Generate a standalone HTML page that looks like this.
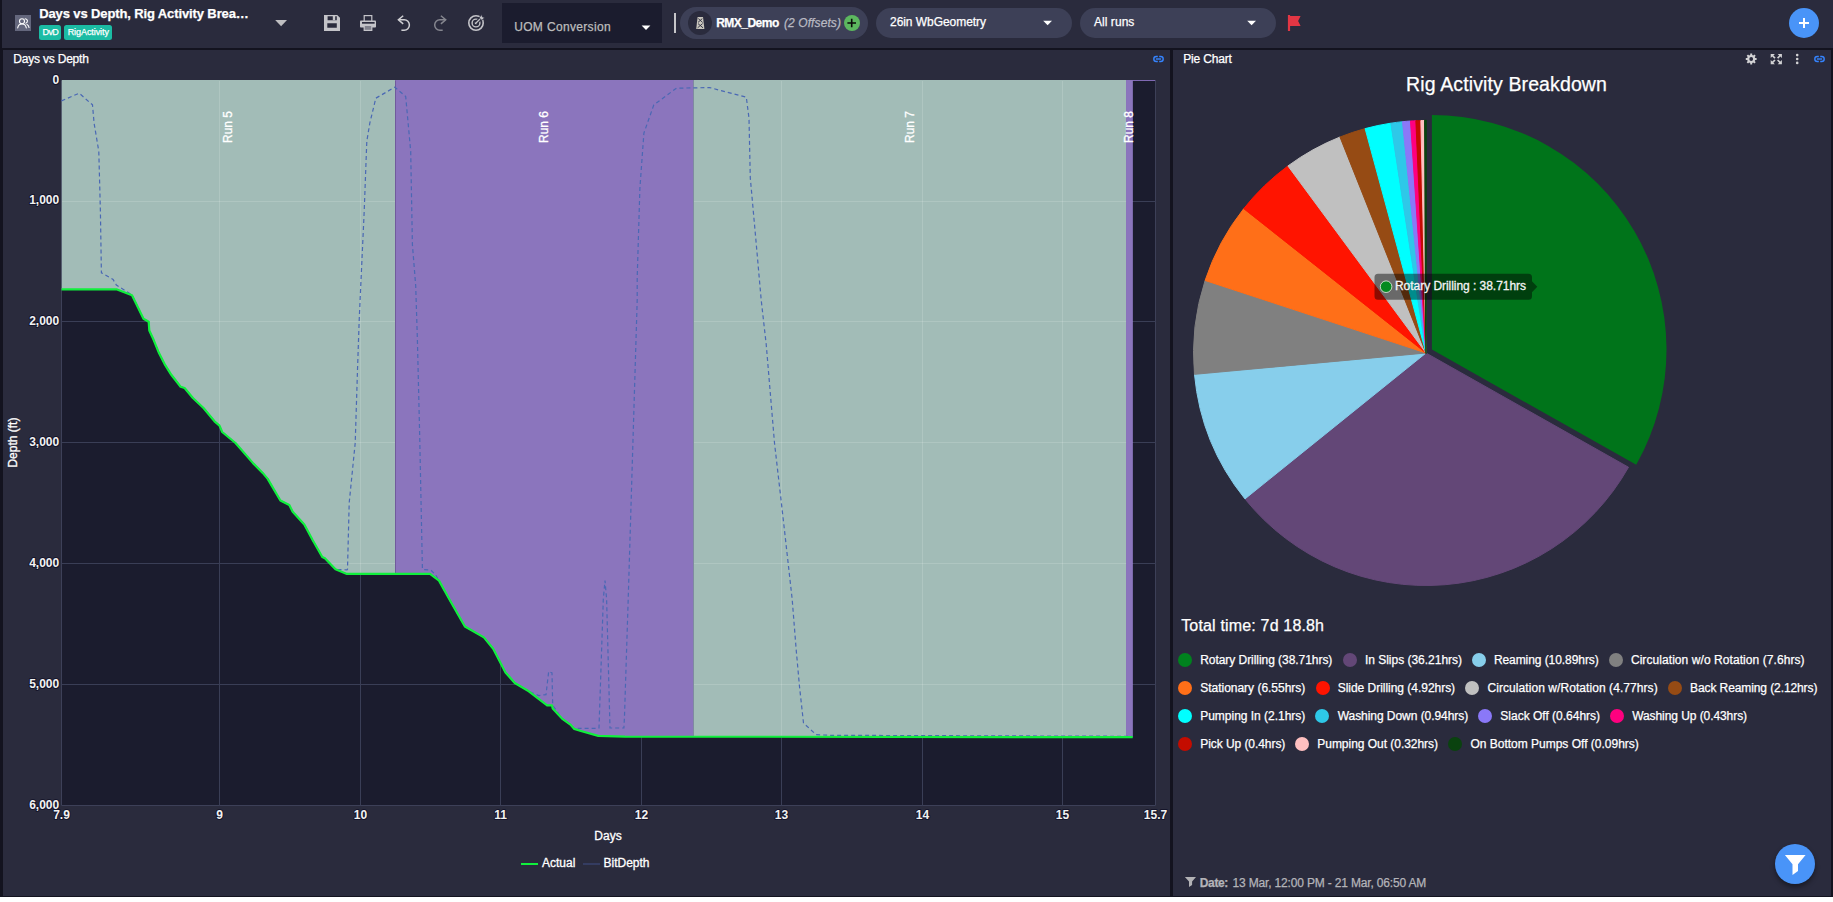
<!DOCTYPE html>
<html lang="en"><head><meta charset="utf-8"><title>Days vs Depth, Rig Activity Breakdown</title>
<style>
*{box-sizing:border-box;margin:0;padding:0}
html,body{width:1833px;height:902px;overflow:hidden;background:#fff}
body{font-family:"Liberation Sans", sans-serif;color:#fff;position:relative}
.abs{position:absolute}
.t{position:absolute;white-space:nowrap;line-height:1;-webkit-text-stroke:0.25px currentColor}
svg{position:absolute;left:0;top:0;overflow:visible}
svg text{font-family:"Liberation Sans", sans-serif}
</style></head><body>
<div class="abs" id="app" style="left:0;top:0;width:1833px;height:897px;background:#13131f"></div>
<div class="abs" id="header" style="left:2px;top:0;width:1831px;height:48px;background:#2a2b3d"></div>
<div class="abs" id="panelL" style="left:3px;top:50px;width:1167px;height:846px;background:#2a2b3d"></div>
<div class="abs" id="panelR" style="left:1173px;top:50px;width:658px;height:846px;background:#2a2b3d"></div>


<div class="abs" style="left:15px;top:15px;width:16px;height:16px;background:#64677d"></div>
<div class="abs" style="left:39px;top:25px;width:22px;height:15px;background:#1bbca4;border-radius:2.5px"></div>
<div class="abs" style="left:64px;top:25px;width:48px;height:15px;background:#1bbca4;border-radius:2.5px"></div>
<div class="abs" style="left:502px;top:3px;width:160px;height:40px;background:#1b1c2e"></div>
<div class="abs" style="left:674px;top:13px;width:2px;height:20px;background:#c6c6c9"></div>
<div class="abs" style="left:680px;top:7px;width:188px;height:32px;border-radius:16px;background:#3d4057"></div>
<div class="abs" style="left:688px;top:11px;width:24px;height:24px;border-radius:12px;background:#2a2b3d"></div>
<div class="abs" style="left:844px;top:15px;width:16px;height:16px;border-radius:8px;background:#5cb85f"></div>
<div class="abs" style="left:876px;top:8px;width:196px;height:30px;border-radius:15px;background:#3d4057"></div>
<div class="abs" style="left:1080px;top:8px;width:196px;height:30px;border-radius:15px;background:#3d4057"></div>
<div class="abs" style="left:1789px;top:8px;width:30px;height:30px;border-radius:15px;background:#4994f8"></div>
<div class="abs" style="left:1775px;top:844px;width:40px;height:40px;border-radius:20px;background:#4994f8;box-shadow:0 3px 5px rgba(0,0,0,.4)"></div>

<div class="t" id="title" style="left:39.20px;top:7.00px;font-size:13px;color:#fff;letter-spacing:-0.117px;font-weight:bold;">Days vs Depth, Rig Activity Brea…</div>
<div class="t" style="left:42.60px;top:28.08px;font-size:9px;color:#fff;letter-spacing:-0.633px;">DvD</div>
<div class="t" style="left:67.70px;top:28.08px;font-size:9px;color:#fff;letter-spacing:-0.073px;">RigActivity</div>
<div class="t" style="left:514.20px;top:20.84px;font-size:12px;color:#bdbdbd;letter-spacing:0.341px;">UOM Conversion</div>
<div class="t" style="left:716.20px;top:16.84px;font-size:12px;color:#fff;letter-spacing:-0.522px;font-weight:bold;">RMX_Demo</div>
<div class="t" style="left:784.00px;top:16.84px;font-size:12px;color:#b9bac3;letter-spacing:0.090px;font-style:italic;">(2 Offsets)</div>
<div class="t" style="left:890.00px;top:16.04px;font-size:12px;color:#fff;letter-spacing:-0.047px;">26in WbGeometry</div>
<div class="t" style="left:1094.00px;top:16.04px;font-size:12px;color:#fff;letter-spacing:0.048px;">All runs</div>
<div class="t" style="left:13.30px;top:52.84px;font-size:12px;color:#fff;letter-spacing:-0.202px;">Days vs Depth</div>
<div class="t" style="left:1183.20px;top:52.84px;font-size:12px;color:#fff;letter-spacing:-0.158px;">Pie Chart</div>
<div class="t" style="left:1406.10px;top:75.29px;font-size:19.5px;color:#fff;letter-spacing:0.118px;">Rig Activity Breakdown</div>
<div class="t" style="left:1181.20px;top:618.06px;font-size:16px;color:#fff;letter-spacing:0.168px;">Total time: 7d 18.8h</div>
<div class="t" style="left:1199.80px;top:876.64px;font-size:12px;color:#b4b4b9;letter-spacing:-0.361px;font-weight:bold;">Date:</div>
<div class="t" style="left:1232.60px;top:876.64px;font-size:12px;color:#b4b4b9;letter-spacing:-0.169px;">13 Mar, 12:00 PM - 21 Mar, 06:50 AM</div>
<div class="abs" style="left:1178.0px;top:653.0px;width:14px;height:14px;border-radius:7px;background:#00821e"></div>
<div class="t" style="left:1200.20px;top:653.84px;font-size:12px;color:#fff;letter-spacing:-0.049px;">Rotary Drilling (38.71hrs)</div>
<div class="abs" style="left:1343.1px;top:653.0px;width:14px;height:14px;border-radius:7px;background:#634777"></div>
<div class="t" style="left:1364.90px;top:653.84px;font-size:12px;color:#fff;letter-spacing:-0.015px;">In Slips (36.21hrs)</div>
<div class="abs" style="left:1472.1px;top:653.0px;width:14px;height:14px;border-radius:7px;background:#87ceeb"></div>
<div class="t" style="left:1493.90px;top:653.84px;font-size:12px;color:#fff;letter-spacing:-0.069px;">Reaming (10.89hrs)</div>
<div class="abs" style="left:1609.2px;top:653.0px;width:14px;height:14px;border-radius:7px;background:#808080"></div>
<div class="t" style="left:1630.90px;top:653.84px;font-size:12px;color:#fff;letter-spacing:0.070px;">Circulation w/o Rotation (7.6hrs)</div>
<div class="abs" style="left:1178.0px;top:681.0px;width:14px;height:14px;border-radius:7px;background:#ff6f18"></div>
<div class="t" style="left:1200.20px;top:681.84px;font-size:12px;color:#fff;letter-spacing:-0.014px;">Stationary (6.55hrs)</div>
<div class="abs" style="left:1315.8px;top:681.0px;width:14px;height:14px;border-radius:7px;background:#ff1400"></div>
<div class="t" style="left:1337.70px;top:681.84px;font-size:12px;color:#fff;letter-spacing:-0.027px;">Slide Drilling (4.92hrs)</div>
<div class="abs" style="left:1465.2px;top:681.0px;width:14px;height:14px;border-radius:7px;background:#c0c0c0"></div>
<div class="t" style="left:1487.50px;top:681.84px;font-size:12px;color:#fff;letter-spacing:0.067px;">Circulation w/Rotation (4.77hrs)</div>
<div class="abs" style="left:1668.2px;top:681.0px;width:14px;height:14px;border-radius:7px;background:#964b14"></div>
<div class="t" style="left:1690.10px;top:681.84px;font-size:12px;color:#fff;letter-spacing:-0.099px;">Back Reaming (2.12hrs)</div>
<div class="abs" style="left:1178.0px;top:709.0px;width:14px;height:14px;border-radius:7px;background:#00ffff"></div>
<div class="t" style="left:1200.20px;top:709.84px;font-size:12px;color:#fff;letter-spacing:-0.015px;">Pumping In (2.1hrs)</div>
<div class="abs" style="left:1315.0px;top:709.0px;width:14px;height:14px;border-radius:7px;background:#2ec8e8"></div>
<div class="t" style="left:1337.70px;top:709.84px;font-size:12px;color:#fff;letter-spacing:-0.050px;">Washing Down (0.94hrs)</div>
<div class="abs" style="left:1478.0px;top:709.0px;width:14px;height:14px;border-radius:7px;background:#8a78f8"></div>
<div class="t" style="left:1500.30px;top:709.84px;font-size:12px;color:#fff;letter-spacing:-0.001px;">Slack Off (0.64hrs)</div>
<div class="abs" style="left:1609.9px;top:709.0px;width:14px;height:14px;border-radius:7px;background:#ff007f"></div>
<div class="t" style="left:1632.20px;top:709.84px;font-size:12px;color:#fff;letter-spacing:-0.073px;">Washing Up (0.43hrs)</div>
<div class="abs" style="left:1178.0px;top:737.0px;width:14px;height:14px;border-radius:7px;background:#c40c00"></div>
<div class="t" style="left:1200.20px;top:737.84px;font-size:12px;color:#fff;letter-spacing:-0.058px;">Pick Up (0.4hrs)</div>
<div class="abs" style="left:1295.0px;top:737.0px;width:14px;height:14px;border-radius:7px;background:#ffc0c0"></div>
<div class="t" style="left:1317.30px;top:737.84px;font-size:12px;color:#fff;letter-spacing:-0.033px;">Pumping Out (0.32hrs)</div>
<div class="abs" style="left:1448.0px;top:737.0px;width:14px;height:14px;border-radius:7px;background:#0a420f"></div>
<div class="t" style="left:1470.40px;top:737.84px;font-size:12px;color:#fff;letter-spacing:-0.004px;">On Bottom Pumps Off (0.09hrs)</div>
<svg width="1833" height="902" viewBox="0 0 1833 902">
<rect x="61.0" y="80.0" width="1095.0" height="726.0" fill="#1b1c2e"/>
<path d="M1132 80.5 H1155.5" fill="none" stroke="#8069b3" stroke-width="1"/>
<path d="M61.5 80.5 V805.5 H1155.5 V80.5" fill="none" stroke="#3d4058" stroke-width="1"/>
<defs><clipPath id="above"><path d="M61.5 289.3 L116.4 289.3 L132.0 295.3 L143.5 318.8 L148.7 321.8 L149.3 330.5 L153.6 339.8 L159.0 353.1 L164.6 364.1 L171.3 374.8 L180.6 386.7 L184.6 388.0 L192.9 398.0 L203.5 408.0 L214.5 421.3 L219.5 425.6 L222.2 432.0 L235.5 443.0 L252.8 462.9 L262.7 472.9 L267.7 478.9 L280.4 500.5 L289.3 505.1 L292.7 511.8 L304.3 524.4 L312.6 540.0 L322.3 557.0 L324.9 558.2 L335.5 569.3 L346.9 573.9 L430.0 573.9 L439.0 580.6 L450.6 601.5 L464.9 626.5 L483.9 637.4 L493.2 648.8 L505.5 672.4 L514.8 683.0 L528.8 691.3 L547.1 705.3 L552.0 705.3 L552.7 708.6 L562.0 718.6 L570.4 724.6 L574.3 728.9 L580.0 730.7 L598.3 735.9 L625.0 736.6 L1132.7 737.2 L1132.7 80 L61.5 80 Z"/></clipPath></defs>
<g stroke="#3a3e56" stroke-width="1" shape-rendering="crispEdges">
<line x1="219.5" y1="80.5" x2="219.5" y2="805.5"/>
<line x1="360.5" y1="80.5" x2="360.5" y2="805.5"/>
<line x1="500.5" y1="80.5" x2="500.5" y2="805.5"/>
<line x1="641.5" y1="80.5" x2="641.5" y2="805.5"/>
<line x1="781.5" y1="80.5" x2="781.5" y2="805.5"/>
<line x1="922.5" y1="80.5" x2="922.5" y2="805.5"/>
<line x1="1062.5" y1="80.5" x2="1062.5" y2="805.5"/>
<line x1="61.5" y1="201.5" x2="1155.5" y2="201.5"/>
<line x1="61.5" y1="321.5" x2="1155.5" y2="321.5"/>
<line x1="61.5" y1="442.5" x2="1155.5" y2="442.5"/>
<line x1="61.5" y1="563.5" x2="1155.5" y2="563.5"/>
<line x1="61.5" y1="684.5" x2="1155.5" y2="684.5"/>
</g>
<g clip-path="url(#above)">
<rect x="61.5" y="80" width="333.5" height="725.5" fill="#a2bcb7"/>
<rect x="395.0" y="80" width="298.5" height="725.5" fill="#8b75bd"/>
<rect x="693.5" y="80" width="432.6" height="725.5" fill="#a2bcb7"/>
<rect x="1126.1" y="80" width="6.8" height="725.5" fill="#8b75bd"/>
</g>
<g stroke="rgba(255,255,255,0.15)" stroke-width="1" shape-rendering="crispEdges" clip-path="url(#above)">
<line x1="219.5" y1="80.5" x2="219.5" y2="805.5"/>
<line x1="360.5" y1="80.5" x2="360.5" y2="805.5"/>
<line x1="500.5" y1="80.5" x2="500.5" y2="805.5"/>
<line x1="641.5" y1="80.5" x2="641.5" y2="805.5"/>
<line x1="781.5" y1="80.5" x2="781.5" y2="805.5"/>
<line x1="922.5" y1="80.5" x2="922.5" y2="805.5"/>
<line x1="1062.5" y1="80.5" x2="1062.5" y2="805.5"/>
<line x1="61.5" y1="201.5" x2="1155.5" y2="201.5"/>
<line x1="61.5" y1="321.5" x2="1155.5" y2="321.5"/>
<line x1="61.5" y1="442.5" x2="1155.5" y2="442.5"/>
<line x1="61.5" y1="563.5" x2="1155.5" y2="563.5"/>
<line x1="61.5" y1="684.5" x2="1155.5" y2="684.5"/>
</g>
<g clip-path="url(#above)">
<rect x="395.0" y="80" width="298.5" height="725.5" fill="#8b75bd"/>
<rect x="1126.1" y="80" width="6.8" height="725.5" fill="#8b75bd"/>
<line x1="395.5" y1="80.5" x2="395.5" y2="805.5" stroke="#705a9c" stroke-width="1"/>
<line x1="693.5" y1="80.5" x2="693.5" y2="805.5" stroke="#7f8aa0" stroke-width="1"/>
</g>
<path d="M61.5 100.9 L79.2 93.2 L92.5 104.9 L94.1 123.2 L98.8 151.4 L100.4 211.3 L101.4 272.8 L113.1 279.5 L116.4 285.1 L132.0 295.0 L143.5 318.8 L148.7 321.8 L149.3 330.5 L153.6 339.8 L159.0 353.1 L164.6 364.1 L171.3 374.8 L180.6 386.7 L184.6 388.0 L192.9 398.0 L203.5 408.0 L214.5 421.3 L219.5 425.6 L222.2 432.0 L235.5 443.0 L252.8 462.9 L262.7 472.9 L267.7 478.9 L280.4 500.5 L289.3 505.1 L292.7 511.8 L304.3 524.4 L312.6 540.0 L322.3 557.0 L324.9 558.2 L335.5 569.3 L336.0 569.6 L347.0 569.8 L347.5 569.3 L349.2 502.8 L355.2 443.0 L357.5 369.8 L359.2 319.9 L360.2 297.7 L364.2 211.3 L366.8 141.4 L369.8 123.2 L375.8 98.2 L394.8 87.2 L405.7 96.5 L410.7 151.4 L412.4 244.5 L415.7 285.8 L417.4 340.0 L419.7 436.3 L422.4 568.5 L423.0 569.6 L430.7 569.9 L435.7 574.9 L439.0 580.6 L450.6 601.5 L464.9 626.5 L483.9 637.4 L493.2 648.8 L505.5 672.4 L514.8 683.0 L528.8 691.3 L538.8 695.6 L546.0 694.6 L548.7 671.4 L552.0 673.0 L552.7 705.3 L562.0 718.6 L570.4 724.6 L574.3 728.9 L574.5 728.4 L598.6 728.4 L599.0 728.0 L603.3 599.3 L605.0 580.5 L606.6 599.0 L610.0 728.0 L623.9 728.0 L624.5 716.0 L628.2 599.3 L633.2 433.0 L637.2 300.0 L637.2 277.8 L639.9 188.0 L643.9 133.1 L653.8 104.9 L676.4 88.2 L709.7 87.6 L746.3 97.2 L749.0 118.2 L750.3 178.0 L756.3 244.5 L761.2 300.0 L766.2 344.3 L774.5 443.0 L782.9 516.2 L792.2 599.5 L796.2 649.9 L799.5 686.5 L803.5 723.0 L816.1 734.7 L830.0 735.3 L1132.7 736.3" fill="none" stroke="#4a68b4" stroke-width="1.2" stroke-dasharray="4 3"/>
<path d="M61.5 289.3 L116.4 289.3 L132.0 295.3 L143.5 318.8 L148.7 321.8 L149.3 330.5 L153.6 339.8 L159.0 353.1 L164.6 364.1 L171.3 374.8 L180.6 386.7 L184.6 388.0 L192.9 398.0 L203.5 408.0 L214.5 421.3 L219.5 425.6 L222.2 432.0 L235.5 443.0 L252.8 462.9 L262.7 472.9 L267.7 478.9 L280.4 500.5 L289.3 505.1 L292.7 511.8 L304.3 524.4 L312.6 540.0 L322.3 557.0 L324.9 558.2 L335.5 569.3 L346.9 573.9 L430.0 573.9 L439.0 580.6 L450.6 601.5 L464.9 626.5 L483.9 637.4 L493.2 648.8 L505.5 672.4 L514.8 683.0 L528.8 691.3 L547.1 705.3 L552.0 705.3 L552.7 708.6 L562.0 718.6 L570.4 724.6 L574.3 728.9 L580.0 730.7 L598.3 735.9 L625.0 736.6 L1132.7 737.2" fill="none" stroke="#10f03c" stroke-width="2.2" stroke-linejoin="round"/>
<text transform="translate(232.1 127) rotate(-90)" text-anchor="middle" font-size="12" fill="#fff" stroke="#fff" stroke-width="0.3">Run 5</text>
<text transform="translate(548.0 127) rotate(-90)" text-anchor="middle" font-size="12" fill="#fff" stroke="#fff" stroke-width="0.3">Run 6</text>
<text transform="translate(913.6 127) rotate(-90)" text-anchor="middle" font-size="12" fill="#fff" stroke="#fff" stroke-width="0.3">Run 7</text>
<text transform="translate(1133.3 127) rotate(-90)" text-anchor="middle" font-size="12" fill="#fff" stroke="#fff" stroke-width="0.3">Run 8</text>
<text x="59.2" y="84" text-anchor="end" font-size="12" font-weight="bold" fill="#f2f2f2" stroke="#15152a" stroke-width="2" stroke-linejoin="round" paint-order="stroke">0</text>
<text x="59.2" y="204" text-anchor="end" font-size="12" font-weight="bold" fill="#f2f2f2" stroke="#15152a" stroke-width="2" stroke-linejoin="round" paint-order="stroke">1,000</text>
<text x="59.2" y="325" text-anchor="end" font-size="12" font-weight="bold" fill="#f2f2f2" stroke="#15152a" stroke-width="2" stroke-linejoin="round" paint-order="stroke">2,000</text>
<text x="59.2" y="446" text-anchor="end" font-size="12" font-weight="bold" fill="#f2f2f2" stroke="#15152a" stroke-width="2" stroke-linejoin="round" paint-order="stroke">3,000</text>
<text x="59.2" y="567" text-anchor="end" font-size="12" font-weight="bold" fill="#f2f2f2" stroke="#15152a" stroke-width="2" stroke-linejoin="round" paint-order="stroke">4,000</text>
<text x="59.2" y="688" text-anchor="end" font-size="12" font-weight="bold" fill="#f2f2f2" stroke="#15152a" stroke-width="2" stroke-linejoin="round" paint-order="stroke">5,000</text>
<text x="59.2" y="809" text-anchor="end" font-size="12" font-weight="bold" fill="#f2f2f2" stroke="#15152a" stroke-width="2" stroke-linejoin="round" paint-order="stroke">6,000</text>
<text x="61.5" y="819" text-anchor="middle" font-size="12" font-weight="bold" fill="#f2f2f2" stroke="#15152a" stroke-width="2" stroke-linejoin="round" paint-order="stroke">7.9</text>
<text x="219.5" y="819" text-anchor="middle" font-size="12" font-weight="bold" fill="#f2f2f2" stroke="#15152a" stroke-width="2" stroke-linejoin="round" paint-order="stroke">9</text>
<text x="360.5" y="819" text-anchor="middle" font-size="12" font-weight="bold" fill="#f2f2f2" stroke="#15152a" stroke-width="2" stroke-linejoin="round" paint-order="stroke">10</text>
<text x="500.5" y="819" text-anchor="middle" font-size="12" font-weight="bold" fill="#f2f2f2" stroke="#15152a" stroke-width="2" stroke-linejoin="round" paint-order="stroke">11</text>
<text x="641.5" y="819" text-anchor="middle" font-size="12" font-weight="bold" fill="#f2f2f2" stroke="#15152a" stroke-width="2" stroke-linejoin="round" paint-order="stroke">12</text>
<text x="781.5" y="819" text-anchor="middle" font-size="12" font-weight="bold" fill="#f2f2f2" stroke="#15152a" stroke-width="2" stroke-linejoin="round" paint-order="stroke">13</text>
<text x="922.5" y="819" text-anchor="middle" font-size="12" font-weight="bold" fill="#f2f2f2" stroke="#15152a" stroke-width="2" stroke-linejoin="round" paint-order="stroke">14</text>
<text x="1062.5" y="819" text-anchor="middle" font-size="12" font-weight="bold" fill="#f2f2f2" stroke="#15152a" stroke-width="2" stroke-linejoin="round" paint-order="stroke">15</text>
<text x="1155.5" y="819" text-anchor="middle" font-size="12" font-weight="bold" fill="#f2f2f2" stroke="#15152a" stroke-width="2" stroke-linejoin="round" paint-order="stroke">15.7</text>
<text x="608" y="839.5" text-anchor="middle" font-size="12" fill="#fff" stroke="#fff" stroke-width="0.3">Days</text>
<text transform="translate(17.3 442.6) rotate(-90)" text-anchor="middle" font-size="12" fill="#fff" stroke="#fff" stroke-width="0.3">Depth (ft)</text>
<line x1="521" y1="864" x2="538" y2="864" stroke="#10f03c" stroke-width="2"/>
<text x="542" y="867" font-size="12" fill="#fff" stroke="#fff" stroke-width="0.3">Actual</text>
<line x1="583" y1="864" x2="600" y2="864" stroke="#3f4f86" stroke-width="1"/>
<text x="603.5" y="867" font-size="12" fill="#fff" stroke="#fff" stroke-width="0.3">BitDepth</text>
<path d="M1431.90 349.60 L1431.90 115.00 A234.6 234.6 0 0 1 1636.24 464.85 Z" fill="#00741a"/>
<path d="M1426.00 353.00 L1628.51 467.22 A232.5 232.5 0 0 1 1244.97 498.89 Z" fill="#634777" stroke="#634777" stroke-width="1" stroke-linejoin="round"/>
<path d="M1426.00 353.00 L1244.97 498.89 A232.5 232.5 0 0 1 1194.48 374.35 Z" fill="#87ceeb" stroke="#87ceeb" stroke-width="1" stroke-linejoin="round"/>
<path d="M1426.00 353.00 L1194.48 374.35 A232.5 232.5 0 0 1 1205.10 280.46 Z" fill="#808080" stroke="#808080" stroke-width="1" stroke-linejoin="round"/>
<path d="M1426.00 353.00 L1205.10 280.46 A232.5 232.5 0 0 1 1243.76 208.63 Z" fill="#ff6f18" stroke="#ff6f18" stroke-width="1" stroke-linejoin="round"/>
<path d="M1426.00 353.00 L1243.76 208.63 A232.5 232.5 0 0 1 1287.92 165.95 Z" fill="#ff1400" stroke="#ff1400" stroke-width="1" stroke-linejoin="round"/>
<path d="M1426.00 353.00 L1287.92 165.95 A232.5 232.5 0 0 1 1339.96 137.01 Z" fill="#c0c0c0" stroke="#c0c0c0" stroke-width="1" stroke-linejoin="round"/>
<path d="M1426.00 353.00 L1339.96 137.01 A232.5 232.5 0 0 1 1365.12 128.61 Z" fill="#964b14" stroke="#964b14" stroke-width="1" stroke-linejoin="round"/>
<path d="M1426.00 353.00 L1365.12 128.61 A232.5 232.5 0 0 1 1390.83 123.18 Z" fill="#00ffff" stroke="#00ffff" stroke-width="1" stroke-linejoin="round"/>
<path d="M1426.00 353.00 L1390.83 123.18 A232.5 232.5 0 0 1 1402.50 121.69 Z" fill="#2ec8e8" stroke="#2ec8e8" stroke-width="1" stroke-linejoin="round"/>
<path d="M1426.00 353.00 L1402.50 121.69 A232.5 232.5 0 0 1 1410.49 121.02 Z" fill="#8a78f8" stroke="#8a78f8" stroke-width="1" stroke-linejoin="round"/>
<path d="M1426.00 353.00 L1410.49 121.02 A232.5 232.5 0 0 1 1415.86 120.72 Z" fill="#ff007f" stroke="#ff007f" stroke-width="1" stroke-linejoin="round"/>
<path d="M1426.00 353.00 L1415.86 120.72 A232.5 232.5 0 0 1 1420.87 120.56 Z" fill="#c40c00" stroke="#c40c00" stroke-width="1" stroke-linejoin="round"/>
<path d="M1426.00 353.00 L1420.87 120.56 A232.5 232.5 0 0 1 1424.87 120.50 Z" fill="#ffc0c0" stroke="#ffc0c0" stroke-width="1" stroke-linejoin="round"/>
<path d="M1426.00 353.00 L1424.87 120.50 A232.5 232.5 0 0 1 1426.00 120.50 Z" fill="#0a420f" stroke="#0a420f" stroke-width="1.7" stroke-linejoin="round"/>
<path d="M1378 273.7 H1528.5 a3.5 3.5 0 0 1 3.5 3.5 V281.2 l5.3 5.5 l-5.3 5.5 V296.3 a3.5 3.5 0 0 1 -3.5 3.5 H1378 a3.5 3.5 0 0 1 -3.5 -3.5 V277.2 a3.5 3.5 0 0 1 3.5 -3.5 Z" fill="rgba(0,0,0,0.45)"/>
<circle cx="1386.1" cy="286.7" r="5.8" fill="#058a20" stroke="#e6f4e6" stroke-width="0.8"/>
<text x="1395" y="290" font-size="12" fill="#f4f4f4" stroke="#f4f4f4" stroke-width="0.3" textLength="131" lengthAdjust="spacing">Rotary Drilling : 38.71hrs</text>
<g fill="none" stroke="#fff" stroke-width="1.1" stroke-linecap="round"><circle cx="22" cy="21.3" r="2.5"/><path d="M17.7 27.9 C18.2 24.9 19.8 24 22 24 C24.2 24 25.8 24.9 26.3 27.9"/><path d="M25.2 18.7 A2.3 2.3 0 0 1 25.8 23.2"/><path d="M27 24.4 C28.3 25 28.9 26 29 27.5"/></g>
<path d="M275.2 20 H287 L281.1 26.2 Z" fill="#bfbfc2"/>
<path fill-rule="evenodd" fill="#c4c4c9" d="M324 15 H337.2 L340 17.8 V31 H324 Z M327.6 16.2 V20.2 H336.8 V16.2 Z M327.3 23.3 V27.7 H336.8 V23.3 Z"/><rect x="332.8" y="15.6" width="2.4" height="4.6" fill="#c4c4c9"/>
<g><rect x="364.2" y="15.6" width="7.6" height="6" fill="#2a2b3d" stroke="#c4c4c9" stroke-width="1.2"/><rect x="360" y="20.4" width="16" height="7.2" rx="0.8" fill="#c4c4c9"/><rect x="362" y="22" width="12.6" height="1.7" fill="#2a2b3d"/><rect x="364.2" y="25.4" width="7.6" height="5" fill="#80818d" stroke="#c4c4c9" stroke-width="1.2"/></g>
<g fill="none" stroke="#cfcfd3" stroke-width="1.5"><path d="M403.2 15.7 L398.4 19.8 L403.2 23.9"/><path d="M398.6 19.8 H404.2 A5.2 5.2 0 0 1 404.2 30.2 H401.4"/></g>
<g fill="none" stroke="#85868f" stroke-width="1.5"><path d="M440.9 15.7 L445.7 19.8 L440.9 23.9"/><path d="M445.5 19.8 H439.9 A5.2 5.2 0 0 0 439.9 30.2 H442.7"/></g>
<g fill="none" stroke="#c4c4c9"><circle cx="476" cy="23" r="7.2" stroke-width="1.6"/><circle cx="476" cy="23" r="3.9" stroke-width="1.4"/><circle cx="476" cy="23" r="1.3" fill="#c4c4c9" stroke="none"/><path d="M476 23 L481 18" stroke="#2a2b3d" stroke-width="3.4"/><path d="M476 23 L481 18" stroke-width="1.2"/><path d="M479.4 17.4 L481.9 14.4 L482.4 16.9 L484.9 17.4 L482 20.2 L480.4 19.6 Z" fill="#c4c4c9" stroke="#2a2b3d" stroke-width="0.8"/></g>
<path d="M641.6 25.6 H650.4 L646 30 Z" fill="#fff"/>
<path d="M1043.2 20.8 H1052 L1047.6 25.3 Z" fill="#fff"/>
<path d="M1247.2 20.8 H1256 L1251.6 25.3 Z" fill="#fff"/>
<g><path d="M697.6 17 H703 L704.4 29 H696.2 Z" fill="#c9c6bd"/><g stroke="#2a2b3d" stroke-width="0.9" fill="none"><path d="M698.3 18.6 L702.6 22.4 M702.3 18.6 L698 22.4 M698 23.6 L703 27.8 M702.6 23.6 L697.6 27.8"/></g></g>
<path d="M847.4 23 H856 M851.7 18.7 V27.3" stroke="#0b0b0b" stroke-width="1.6" fill="none"/>
<path d="M1287.9 15 H1290.1 V16.1 H1300.6 L1298.1 21 L1300.6 25.9 H1290.1 V31 H1287.9 Z" fill="#e23644"/>
<path d="M1799 23 H1809 M1804 18 V28" stroke="#fff" stroke-width="2" fill="none"/>
<path d="M1750.25 53.58 L1752.15 53.58 L1752.22 55.03 L1753.29 55.47 L1754.36 54.50 L1755.70 55.84 L1754.73 56.91 L1755.17 57.98 L1756.62 58.05 L1756.62 59.95 L1755.17 60.02 L1754.73 61.09 L1755.70 62.16 L1754.36 63.50 L1753.29 62.53 L1752.22 62.97 L1752.15 64.42 L1750.25 64.42 L1750.18 62.97 L1749.11 62.53 L1748.04 63.50 L1746.70 62.16 L1747.67 61.09 L1747.23 60.02 L1745.78 59.95 L1745.78 58.05 L1747.23 57.98 L1747.67 56.91 L1746.70 55.84 L1748.04 54.50 L1749.11 55.47 L1750.18 55.03 Z M1749.30 59.00 a1.9 1.9 0 1 0 3.8 0 a1.9 1.9 0 1 0 -3.8 0 Z" fill="#d2d2d4" fill-rule="evenodd"/>
<g fill="#d2d2d4"><path d="M1770.7 53.9 h4.2 l-1.5 1.5 l2.2 2.2 l-1.2 1.2 l-2.2 -2.2 l-1.5 1.5 Z"/><path d="M1781.8999999999999 53.9 h-4.2 l1.5 1.5 l-2.2 2.2 l1.2 1.2 l2.2 -2.2 l1.5 1.5 Z"/><path d="M1770.7 64.3 h4.2 l-1.5 -1.5 l2.2 -2.2 l-1.2 -1.2 l-2.2 2.2 l-1.5 -1.5 Z"/><path d="M1781.8999999999999 64.3 h-4.2 l1.5 -1.5 l-2.2 -2.2 l1.2 -1.2 l2.2 2.2 l1.5 -1.5 Z"/></g>
<g fill="#d2d2d4"><circle cx="1797.2" cy="55.1" r="1.3"/><circle cx="1797.2" cy="59" r="1.3"/><circle cx="1797.2" cy="62.9" r="1.3"/></g>
<g fill="none" stroke="#3584ff" stroke-width="1.4"><path d="M1818.8 56.5 H1817.3 a2.5 2.5 0 0 0 0 5 H1818.8"/><path d="M1820.2 56.5 H1821.7 a2.5 2.5 0 0 1 0 5 H1820.2"/><path d="M1816.9 59 H1822.1"/></g>
<g fill="none" stroke="#3584ff" stroke-width="1.4"><path d="M1157.8 56.5 H1156.3 a2.5 2.5 0 0 0 0 5 H1157.8"/><path d="M1159.2 56.5 H1160.7 a2.5 2.5 0 0 1 0 5 H1159.2"/><path d="M1155.9 59 H1161.1"/></g>
<path d="M1784.9 855.1 H1805.6 L1798 864.3 V871.1 L1792.5 875.1 V864.3 Z" fill="#fff"/>
<path d="M1184.9 877.1 H1196 L1192.1 881.6 V885 L1189 887 V881.6 Z" fill="#b3b3b6"/>
</svg>
</body></html>
